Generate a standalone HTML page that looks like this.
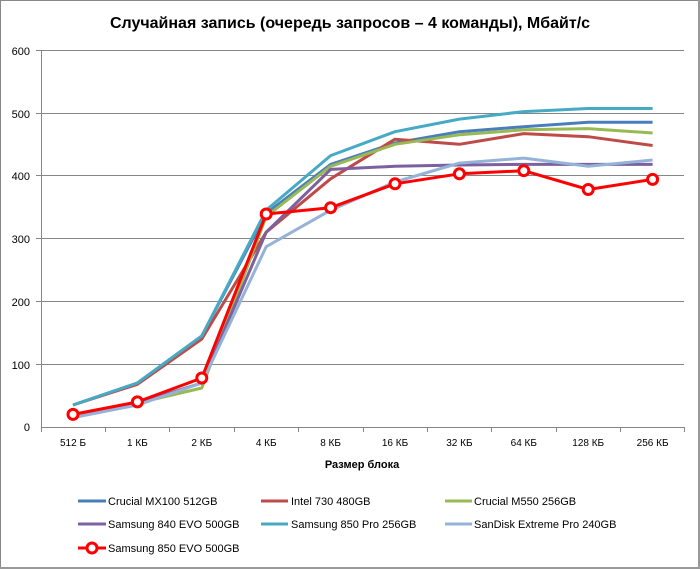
<!DOCTYPE html>
<html><head><meta charset="utf-8"><style>
html,body{margin:0;padding:0;background:#fff}
svg{display:block;font-family:"Liberation Sans",sans-serif}
</style></head><body>
<svg width="700" height="569" viewBox="0 0 700 569">
<rect x="0.5" y="0.5" width="698" height="567" fill="#fff" stroke="#888"/>
<line x1="0" y1="568" x2="700" y2="568" stroke="#999" stroke-width="2"/>
<line x1="699" y1="0" x2="699" y2="569" stroke="#999" stroke-width="2"/>
<text x="350" y="28" text-anchor="middle" font-size="16" font-weight="bold" fill="#000">Случайная запись (очередь запросов – 4 команды), Мбайт/с</text>
<g stroke="#868686" stroke-width="1">
<line x1="41" y1="50.5" x2="684" y2="50.5"/>
<line x1="41" y1="113.5" x2="684" y2="113.5"/>
<line x1="41" y1="175.5" x2="684" y2="175.5"/>
<line x1="41" y1="238.5" x2="684" y2="238.5"/>
<line x1="41" y1="301.5" x2="684" y2="301.5"/>
<line x1="41" y1="364.5" x2="684" y2="364.5"/>
<line x1="41" y1="427.5" x2="684" y2="427.5"/>
<line x1="41.5" y1="50" x2="41.5" y2="432"/>
<line x1="36" y1="50.5" x2="41" y2="50.5"/><line x1="36" y1="113.5" x2="41" y2="113.5"/><line x1="36" y1="175.5" x2="41" y2="175.5"/><line x1="36" y1="238.5" x2="41" y2="238.5"/><line x1="36" y1="301.5" x2="41" y2="301.5"/><line x1="36" y1="364.5" x2="41" y2="364.5"/>
<line x1="105.5" y1="427" x2="105.5" y2="432"/><line x1="169.5" y1="427" x2="169.5" y2="432"/><line x1="234.5" y1="427" x2="234.5" y2="432"/><line x1="298.5" y1="427" x2="298.5" y2="432"/><line x1="363.5" y1="427" x2="363.5" y2="432"/><line x1="427.5" y1="427" x2="427.5" y2="432"/><line x1="491.5" y1="427" x2="491.5" y2="432"/><line x1="556.5" y1="427" x2="556.5" y2="432"/><line x1="620.5" y1="427" x2="620.5" y2="432"/><line x1="684.5" y1="427" x2="684.5" y2="432"/>
</g>
<g font-size="11" fill="#000" text-anchor="end">
<text x="30" y="55">600</text><text x="30" y="118">500</text><text x="30" y="180">400</text><text x="30" y="243">300</text><text x="30" y="306">200</text><text x="30" y="369">100</text><text x="30" y="431">0</text>
</g>
<g font-size="10" fill="#000" text-anchor="middle">
<text x="73" y="446">512 Б</text><text x="137.4" y="446">1 КБ</text><text x="201.8" y="446">2 КБ</text><text x="266.2" y="446">4 КБ</text><text x="330.6" y="446">8 КБ</text><text x="395" y="446">16 КБ</text><text x="459.4" y="446">32 КБ</text><text x="523.8" y="446">64 КБ</text><text x="588.2" y="446">128 КБ</text><text x="652.6" y="446">256 КБ</text>
</g>
<text x="362" y="468" text-anchor="middle" font-size="11" font-weight="bold">Размер блока</text>
<g fill="none" stroke-width="3" stroke-linejoin="round">
<polyline stroke="#4a7ebb" points="73,405 137.4,383 201.8,335.9 266.2,213.4 330.6,164.4 395,143 459.4,131.7 523.8,126.7 588.2,122.3 652.6,122.3"/>
<polyline stroke="#be4b48" points="73,405 137.4,384.3 201.8,339 266.2,232.2 330.6,178.8 395,139.2 459.4,144.3 523.8,133.6 588.2,136.7 652.6,145.5"/>
<polyline stroke="#98b954" points="73,417.6 137.4,403.1 201.8,388 266.2,216.5 330.6,166.3 395,144.3 459.4,134.8 523.8,129.8 588.2,128.6 652.6,133"/>
<polyline stroke="#7d60a0" points="73,417.6 137.4,403.1 201.8,383 266.2,232.2 330.6,169.4 395,166.3 459.4,165 523.8,164.4 588.2,164.4 652.6,164.4"/>
<polyline stroke="#46aac5" points="73,405 137.4,383 201.8,335.9 266.2,210.2 330.6,155.6 395,131.7 459.4,119.1 523.8,111.6 588.2,108.5 652.6,108.5"/>
<polyline stroke="#95b3d7" points="73,417.6 137.4,405 201.8,383 266.2,246.7 330.6,210.2 395,182 459.4,163.1 523.8,158.1 588.2,166.3 652.6,160"/>
<polyline stroke="#ff0000" points="73,414.4 137.4,401.9 201.8,378 266.2,214 330.6,207.7 395,183.8 459.4,173.8 523.8,170.7 588.2,189.5 652.6,179.4"/>
</g>
<g fill="#fff" stroke="#ff0000" stroke-width="3">
<circle cx="73" cy="414.4" r="5"/><circle cx="137.4" cy="401.9" r="5"/><circle cx="201.8" cy="378" r="5"/><circle cx="266.2" cy="214" r="5"/><circle cx="330.6" cy="207.7" r="5"/><circle cx="395" cy="183.8" r="5"/><circle cx="459.4" cy="173.8" r="5"/><circle cx="523.8" cy="170.7" r="5"/><circle cx="588.2" cy="189.5" r="5"/><circle cx="652.6" cy="179.4" r="5"/>
</g>
<g stroke-width="3">
<line x1="78" y1="501" x2="106" y2="501" stroke="#4a7ebb"/>
<line x1="261" y1="501" x2="288" y2="501" stroke="#be4b48"/>
<line x1="445" y1="501" x2="472" y2="501" stroke="#98b954"/>
<line x1="78" y1="524" x2="106" y2="524" stroke="#7d60a0"/>
<line x1="261" y1="524" x2="288" y2="524" stroke="#46aac5"/>
<line x1="445" y1="524" x2="472" y2="524" stroke="#95b3d7"/>
<line x1="78" y1="548" x2="106" y2="548" stroke="#ff0000"/>
<circle cx="92" cy="548" r="5" fill="#fff" stroke="#ff0000"/>
</g>
<g font-size="11" fill="#000">
<text x="108" y="505">Crucial MX100 512GB</text>
<text x="291" y="505">Intel 730 480GB</text>
<text x="474" y="505">Crucial M550 256GB</text>
<text x="108" y="528">Samsung 840 EVO 500GB</text>
<text x="291" y="528">Samsung 850 Pro 256GB</text>
<text x="474" y="528">SanDisk Extreme Pro 240GB</text>
<text x="108" y="552">Samsung 850 EVO 500GB</text>
</g>
</svg>
</body></html>
